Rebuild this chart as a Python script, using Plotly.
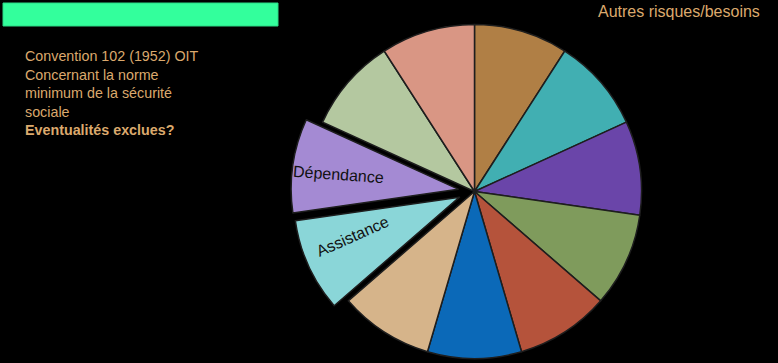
import math
import plotly.graph_objects as go

# ---- data ----
categories = [
    "Soins médicaux", "Indemnités de maladie", "Chômage", "Vieillesse",
    "Accidents du travail", "Prestations aux familles", "Maternité",
    "Assistance", "Dépendance", "Invalidité", "Survivants",
]
values = [1, 1, 1, 1, 1, 1, 1, 1, 1, 1, 1]
slice_labels = ["", "", "", "", "", "", "", "Assistance", "Dépendance", "", ""]
pulled = ["Assistance", "Dépendance"]

title_text = "Autres risques/besoins"
note_lines = [
    "Convention 102 (1952) OIT",
    "Concernant la norme",
    "minimum de la sécurité",
    "sociale",
]
note_bold = "Eventualités exclues?"

# ---- style ----
slice_colors = [
    "#b07f45", "#41afb2", "#6a45a9", "#7f9b5c", "#b5533b", "#0b69b8",
    "#d6b48a", "#8ad6d8", "#a48ad3", "#b4c8a0", "#d99684",
]
TAN = "#dba96d"
FONT = "Arial, Liberation Sans, sans-serif"
W, H = 778, 363
CX, CY, R = 474.5, 191.5, 167.0   # pixel centre / radius of the pie
PULL_PX = 16.5
TRANSPARENT = "rgba(0,0,0,0)"
# label placement inside pulled slices: (radius fraction, angular shift deg, text angle deg)
label_style = {"Dépendance": (0.72, -1.4, 4), "Assistance": (0.685, 4.5, -24)}


def fit(cx, cy, r):
    """Keep a pie of radius r centred at pixel (cx, cy) inside the figure,
    splitting any overflow between a small shift and a small shrink."""
    over = max(0.0, (cy + r) - H, r - cy)
    if over > 0:
        sign = -1 if (cy + r) > H else 1
        cy += sign * over / 2
        r -= over / 2
    return cx, cy, r


def domain(cx, cy, r):
    """Domain (paper fractions) for a pie centred at pixel (cx, cy) with radius r."""
    yb = H - cy
    return dict(x=[(cx - r) / W, (cx + r) / W], y=[max(0, (yb - r) / H), min(1, (yb + r) / H)])


n = len(values)
total = sum(values)

fig = go.Figure()

# main (unpulled) pie
main_colors = [TRANSPARENT if c in pulled else col for c, col in zip(categories, slice_colors)]
main_lw = [0 if c in pulled else 1.5 for c in categories]
fig.add_trace(go.Pie(
    labels=categories, values=values, sort=False, direction="clockwise", rotation=0,
    marker=dict(colors=main_colors, line=dict(color="#1e1e1e", width=main_lw)),
    textinfo="none", hoverinfo="label", showlegend=False,
    domain=domain(CX, CY, R),
))

# pulled slices: one trace each, shifted outward along the slice bisector
cum = 0
for i, (cat, v) in enumerate(zip(categories, values)):
    mid = (cum + v / 2) / total * 2 * math.pi
    cum += v
    if cat not in pulled:
        continue
    dx = PULL_PX * math.sin(mid)
    dy = -PULL_PX * math.cos(mid)
    pcx, pcy, pr = fit(CX + dx, CY + dy, R)
    cols = [slice_colors[j] if j == i else TRANSPARENT for j in range(n)]
    lws = [1.5 if j == i else 0 for j in range(n)]
    fig.add_trace(go.Pie(
        labels=categories, values=values, sort=False, direction="clockwise", rotation=0,
        marker=dict(colors=cols, line=dict(color="#1e1e1e", width=lws)),
        textinfo="none", hoverinfo="label", showlegend=False,
        domain=domain(pcx, pcy, pr),
    ))
    rf, shift, tangle = label_style[cat]
    a = mid + math.radians(shift)
    lx = pcx + rf * R * math.sin(a)
    ly = pcy - rf * R * math.cos(a)
    fig.add_annotation(
        text=slice_labels[i], xref="paper", yref="paper",
        x=lx / W, y=1 - ly / H, xanchor="center", yanchor="middle",
        textangle=tangle, showarrow=False,
        font=dict(family=FONT, size=16, color="#111111"),
    )

fig.add_shape(
    type="rect", xref="paper", yref="paper",
    x0=3 / W, x1=278 / W, y0=1 - 26 / H, y1=1 - 3 / H,
    fillcolor="#33ff9c", line=dict(color="#2bd985", width=1),
)

fig.add_annotation(
    text=title_text, xref="paper", yref="paper", x=762 / W, y=1 - 1 / H,
    xanchor="right", yanchor="top", showarrow=False,
    font=dict(family=FONT, size=16, color=TAN),
)

fig.add_annotation(
    text="<br>".join(note_lines) + "<br><b>" + note_bold + "</b>",
    xref="paper", yref="paper", x=23 / W, y=1 - 45.5 / H,
    xanchor="left", yanchor="top", align="left", showarrow=False,
    font=dict(family=FONT, size=14.3, color=TAN),
)

fig.update_layout(
    width=W, height=H, margin=dict(l=0, r=0, t=0, b=0),
    paper_bgcolor="black", plot_bgcolor="black",
)

fig.write_html(
    "out.html",
    config={"displayModeBar": False},
    post_script="document.body.style.margin='0';document.body.style.overflow='hidden';",
)
